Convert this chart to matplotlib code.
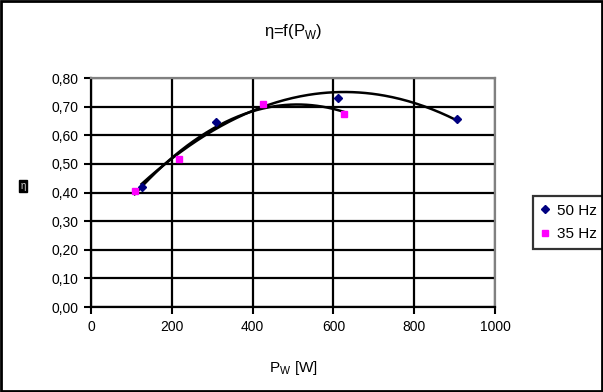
import numpy as np
import matplotlib
matplotlib.use("Agg")
import matplotlib.pyplot as plt
from matplotlib.patches import Rectangle

plt.rcParams['font.family'] = ['Liberation Sans', 'DejaVu Sans']

# Data
p50 = [125, 310, 612, 907]
eta50 = [0.418, 0.648, 0.732, 0.657]
p35 = [108, 217, 425, 627]
eta35 = [0.407, 0.516, 0.711, 0.676]
xticks = [0, 200, 400, 600, 800, 1000]
yticks = [0.0, 0.1, 0.2, 0.3, 0.4, 0.5, 0.6, 0.7, 0.8]
ytick_labels = ["0,00", "0,10", "0,20", "0,30", "0,40", "0,50", "0,60", "0,70", "0,80"]

fig = plt.figure(figsize=(6.03, 3.92), dpi=100)
ax = fig.add_axes([0.151, 0.2168, 0.670, 0.584])

ax.set_xlim(0, 1000)
ax.set_ylim(0, 0.8)
ax.set_xticks(xticks)
ax.set_yticks(yticks)
ax.set_yticklabels(ytick_labels)
ax.tick_params(labelsize=10, direction='out', length=5, width=1.5, color='black', pad=4)
ax.grid(True, color='black', linewidth=1.6)
ax.set_axisbelow(True)
for s in ['left', 'bottom']:
    ax.spines[s].set_color('black')
    ax.spines[s].set_linewidth(1.6)
for s in ['top', 'right']:
    ax.spines[s].set_color('#808080')
    ax.spines[s].set_linewidth(1.6)

# Polynomial trendlines (as in the original spreadsheet chart)
c50 = np.polyfit(p50, eta50, 2)
xs50 = np.linspace(min(p50), max(p50), 200)
ax.plot(xs50, np.polyval(c50, xs50), color='black', linewidth=1.8, zorder=3)
c35 = np.polyfit(p35, eta35, 2)
xs35 = np.linspace(min(p35), max(p35), 200)
ax.plot(xs35, np.polyval(c35, xs35), color='black', linewidth=1.8, zorder=3)

ax.plot(p50, eta50, linestyle='none', marker='D', markersize=3.6, color='#000080', label='50 Hz', zorder=4)
ax.plot(p35, eta35, linestyle='none', marker='s', markersize=4.8, color='#ff00ff', label='35 Hz', zorder=4)

ax.set_title(r"η=f(P$_\mathregular{W}$)", fontsize=12, pad=30)
ax.set_xlabel(r"P$_\mathregular{W}$ [W]", fontsize=11, labelpad=18)

# Y-axis label (rendered as a small dark box in the original)
fig.text(0.038, 0.526, "η", fontsize=7, color='#cccccc', ha='center', va='center',
         bbox=dict(facecolor='black', edgecolor='black', pad=0.8))

leg = ax.legend(loc='center left', bbox_to_anchor=(1.075, 0.37), frameon=True, fancybox=False,
                edgecolor='black', fontsize=11, handlelength=0.6, handletextpad=0.5,
                borderpad=0.5, labelspacing=0.6)
leg.get_frame().set_linewidth(1.6)

fig.patches.append(Rectangle((0.001, 0.002), 0.997, 0.996, transform=fig.transFigure,
                             fill=False, edgecolor='black', linewidth=2))

fig.savefig("out.png", dpi=100)
